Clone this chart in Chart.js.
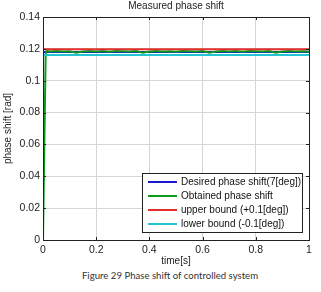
<!DOCTYPE html>
<html><head><meta charset="utf-8">
<script src="https://cdn.jsdelivr.net/npm/chart.js@4/dist/chart.umd.min.js"></script>
<style>
html,body{margin:0;padding:0;background:#fff;width:321px;height:292px;overflow:hidden}
#wrap{position:absolute;left:0;top:0;width:321px;height:268px}
#cap{position:absolute;left:0;top:270px;width:340px;text-align:center;font:9.6px Lato,"Open Sans",sans-serif;color:#333}
</style></head><body>
<div id="wrap"><canvas id="c" width="321" height="268"></canvas></div>
<div id="cap">Figure 29 Phase shift of controlled system</div>
<script>
const titleText = "Measured phase shift";
const xTitle = "time[s]";
const yTitle = "phase shift [rad]";
const seriesLabels = ["Desired phase shift(7[deg])","Obtained phase shift","upper bound (+0.1[deg])","lower bound (-0.1[deg])"];
const xTicks = [0,0.2,0.4,0.6,0.8,1];
const yTicks = [0,0.02,0.04,0.06,0.08,0.1,0.12,0.14];
const timeRef = [0, 1];
const desired = [0.118, 0.118];
const upper = [0.1197, 0.1197];
const lower = [0.1162, 0.1162];
const timeObt = [0,0.005,0.01,0.015,0.02,0.025,0.05,0.075,0.1,0.125,0.15,0.175,0.2,0.225,0.25,0.275,0.3,0.325,0.35,0.375,0.4,0.425,0.45,0.475,0.5,0.525,0.55,0.575,0.6,0.625,0.65,0.675,0.7,0.725,0.75,0.775,0.8,0.825,0.85,0.875,0.9,0.925,0.95,0.975,1.0];
const obtained = [0,0.06,0.117,0.1192,0.1185,0.1184,0.1186,0.1183,0.1185,0.1176,0.1183,0.1186,0.1184,0.1187,0.1182,0.1186,0.1185,0.1183,0.1186,0.1176,0.1184,0.1186,0.1183,0.1185,0.1182,0.1186,0.1185,0.1183,0.1186,0.1176,0.1183,0.1186,0.1184,0.1187,0.1182,0.1186,0.1185,0.1183,0.1186,0.1176,0.1184,0.1186,0.1183,0.1185,0.1184];
const colors = ["#1a1acc","#0c9a1c","#e3302c","#22c4d4"];

const pts = (xs, ys) => xs.map((x,i)=>({x:x,y:ys[i]}));
const FONT = '"Liberation Sans", Arial, sans-serif';

const deco = {
  id:'deco',
  afterDatasetsDraw(chart){
    const ctx = chart.ctx, a = chart.chartArea;
    ctx.save();
    ctx.strokeStyle = '#222'; ctx.lineWidth = 1;
    ctx.strokeRect(Math.round(a.left)+0.5, Math.round(a.top)+0.5, Math.round(a.right-a.left), Math.round(a.bottom-a.top));
    const xs = chart.scales.x, ys = chart.scales.y;
    ctx.beginPath();
    xTicks.forEach(v=>{const p=Math.round(xs.getPixelForValue(v))+0.5; ctx.moveTo(p,a.bottom); ctx.lineTo(p,a.bottom-3); ctx.moveTo(p,a.top); ctx.lineTo(p,a.top+3);});
    yTicks.forEach(v=>{const p=Math.round(ys.getPixelForValue(v))+0.5; ctx.moveTo(a.left,p); ctx.lineTo(a.left+3,p); ctx.moveTo(a.right,p); ctx.lineTo(a.right-3,p);});
    ctx.stroke();
    ctx.fillStyle = '#222'; ctx.font = '10px '+FONT; ctx.textAlign='center'; ctx.textBaseline='middle';
    ctx.fillText(titleText, (a.left+a.right)/2, 6);
    ctx.fillText(xTitle, (a.left+a.right)/2, 261);
    ctx.save(); ctx.translate(8,(a.top+a.bottom)/2); ctx.rotate(-Math.PI/2); ctx.fillText(yTitle,0,0); ctx.restore();
    const lx=142, ly=173, lw=160, lh=59;
    ctx.fillStyle='#fff'; ctx.fillRect(lx,ly,lw,lh);
    ctx.strokeStyle='#222'; ctx.strokeRect(lx+0.5,ly+0.5,lw,lh);
    const rows=[182,196,210,224];
    chart.data.datasets.forEach((d,i)=>{
      ctx.strokeStyle=d.borderColor; ctx.lineWidth=2;
      ctx.beginPath(); ctx.moveTo(148,rows[i]); ctx.lineTo(177,rows[i]); ctx.stroke();
      ctx.fillStyle='#111'; ctx.textAlign='left'; ctx.font='10px '+FONT;
      ctx.fillText(d.label,181,rows[i]+0.5);
    });
    ctx.restore();
  }
};

new Chart(document.getElementById('c'), {
  type:'scatter',
  data:{datasets:[
    {label:seriesLabels[0], data:pts(timeRef,desired), borderColor:colors[0], backgroundColor:colors[0], showLine:true, pointRadius:0, borderWidth:2, order:4},
    {label:seriesLabels[1], data:pts(timeObt,obtained), borderColor:colors[1], backgroundColor:colors[1], showLine:true, pointRadius:0, borderWidth:2, order:3},
    {label:seriesLabels[2], data:pts(timeRef,upper), borderColor:colors[2], backgroundColor:colors[2], showLine:true, pointRadius:0, borderWidth:2, order:2},
    {label:seriesLabels[3], data:pts(timeRef,lower), borderColor:colors[3], backgroundColor:colors[3], showLine:true, pointRadius:0, borderWidth:2, order:1}
  ]},
  options:{
    responsive:false, animation:false,
    layout:{padding:{top:17,right:12,left:0,bottom:0}},
    plugins:{legend:{display:false}, title:{display:false}, tooltip:{enabled:false}},
    scales:{
      x:{type:'linear', min:0, max:1,
        afterBuildTicks:s=>{s.ticks=xTicks.map(v=>({value:v}));},
        afterFit:s=>{s.height=28;},
        grid:{color:'#d6d6d6', lineWidth:1, tickLength:0, drawTicks:false},
        border:{display:false},
        ticks:{padding:4, color:'#222', font:{family:FONT,size:10.5}, maxRotation:0, callback:v=>String(v)}},
      y:{type:'linear', min:0, max:0.14,
        afterBuildTicks:s=>{s.ticks=yTicks.map(v=>({value:v}));},
        afterFit:s=>{s.width=43;},
        grid:{color:'#d6d6d6', lineWidth:1, tickLength:0, drawTicks:false},
        border:{display:false},
        ticks:{padding:3, color:'#222', font:{family:FONT,size:10.5}, callback:v=>String(v)}}
    }
  },
  plugins:[deco]
});
</script>
</body></html>
